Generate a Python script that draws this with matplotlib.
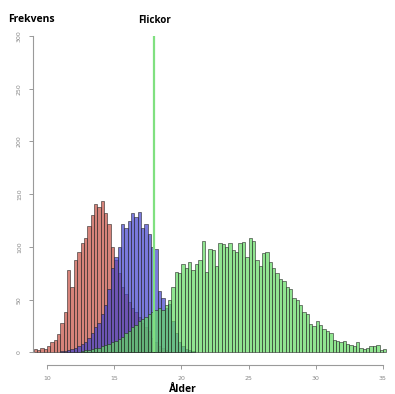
import matplotlib
matplotlib.use("Agg")
import matplotlib.pyplot as plt
import numpy as np

bin_width = 0.25

red_start = 9.0
red_counts = [3, 2, 4, 3, 6, 10, 12, 17, 28, 38, 78, 62, 88, 95, 104, 108,
              120, 130, 141, 138, 144, 132, 122, 100, 88, 75, 62, 55, 48, 42,
              38, 34, 28, 24, 20, 14, 10, 6, 4, 2]

blue_start = 11.0
blue_counts = [1, 1, 2, 3, 4, 6, 8, 10, 14, 18, 24, 28, 36, 45, 60, 80, 90,
               100, 122, 118, 125, 132, 128, 133, 118, 122, 112, 100, 98, 58,
               52, 42, 46, 30, 18, 10, 6, 3, 2, 1]

green_start = 12.5
green_counts = [1, 2, 2, 3, 4, 4, 6, 7, 8, 10, 11, 13, 15, 18, 20, 24, 26, 30,
                32, 34, 36, 38, 40, 42, 40, 45, 50, 62, 76, 75, 84, 80, 86, 78,
                84, 88, 106, 76, 98, 97, 82, 104, 103, 100, 104, 97, 95, 104,
                105, 90, 108, 106, 88, 82, 94, 95, 86, 80, 75, 70, 68, 62, 60,
                52, 50, 45, 38, 36, 27, 25, 30, 26, 22, 20, 18, 12, 11, 10, 11,
                8, 7, 6, 10, 4, 3, 4, 6, 6, 7, 2, 3]

line_age = 18
line_height = 300
line_label = "Flickor"

x_ticks = [10, 15, 20, 25, 30, 35]
y_ticks = [0, 50, 100, 150, 200, 250, 300]

fig = plt.figure(figsize=(3.95, 3.94), dpi=100)
ax = fig.add_axes([33/395, 29/394, 358/395, 341.6/394])


def draw(start, counts, color):
    counts = np.asarray(counts, dtype=float)
    lefts = start + bin_width * np.arange(len(counts))
    ax.bar(lefts, counts, width=bin_width, align="edge", color=color,
           edgecolor=(0.15, 0.15, 0.15, 0.8), linewidth=0.5)


draw(red_start, red_counts, (0.78, 0.33, 0.28, 0.72))
draw(blue_start, blue_counts, (0.25, 0.25, 0.80, 0.70))
draw(green_start, green_counts, (0.38, 0.86, 0.38, 0.70))

ax.plot([line_age, line_age], [0, line_height], color="#80e080", lw=1.6,
        solid_capstyle="butt")
ax.text(line_age, line_height + 10, line_label, ha="center", va="bottom",
        fontsize=7, fontweight="bold", family="Open Sans", clip_on=False)

ax.set_xlim(8.96, 35.6)
ax.set_ylim(-12, 312)
for s in ["top", "right"]:
    ax.spines[s].set_visible(False)
ax.spines["left"].set_bounds(0, 300)
ax.spines["bottom"].set_bounds(10, 35)
for s in ["left", "bottom"]:
    ax.spines[s].set_color("#9a9a9a")
    ax.spines[s].set_linewidth(0.8)

ax.set_xticks(x_ticks)
ax.set_xticklabels([str(v) for v in x_ticks])
ax.set_yticks(y_ticks)
ax.set_yticklabels([str(v) for v in y_ticks], rotation=90, va="center")
ax.tick_params(axis="both", colors="#9a9a9a", labelcolor="#888888",
               labelsize=4.5, length=3, width=0.7, pad=5)

fig.text(8/395, 1 - 20/394, "Frekvens", ha="left", va="center", fontsize=7.5,
         fontweight="bold", family="Open Sans")
fig.text(183/395, 1 - 390/394, "Ålder", ha="center", va="center", fontsize=7.5,
         fontweight="bold", family="Open Sans")

fig.savefig("out.png", dpi=100, facecolor="white")
